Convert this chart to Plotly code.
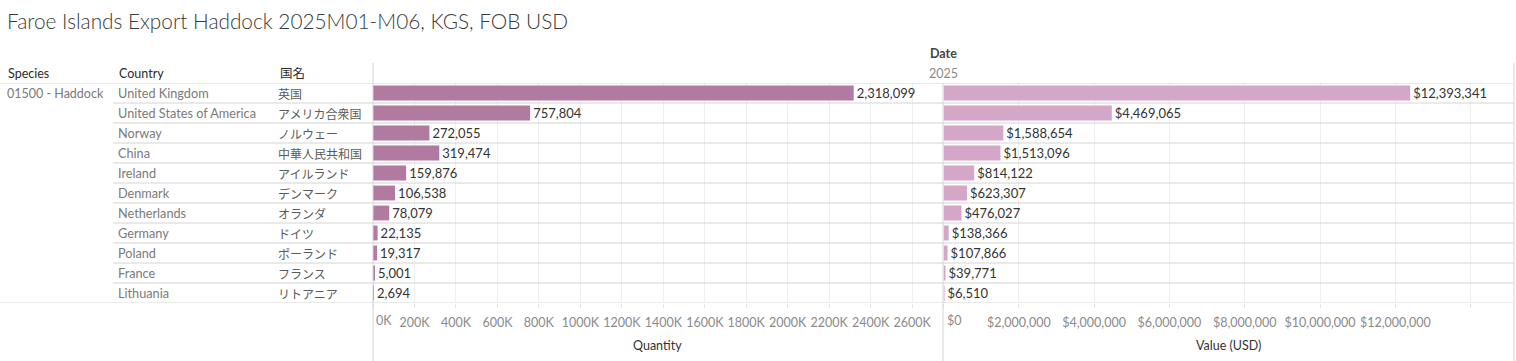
import plotly.graph_objects as go

# ---------------- data ----------------
species = "01500 - Haddock"
countries = ["United Kingdom", "United States of America", "Norway", "China", "Ireland",
             "Denmark", "Netherlands", "Germany", "Poland", "France", "Lithuania"]
countries_jp = ["英国", "アメリカ合衆国", "ノルウェー", "中華人民共和国", "アイルランド",
                "デンマーク", "オランダ", "ドイツ", "ポーランド", "フランス", "リトアニア"]
quantity = [2318099, 757804, 272055, 319474, 159876, 106538, 78079, 22135, 19317, 5001, 2694]
value_usd = [12393341, 4469065, 1588654, 1513096, 814122, 623307, 476027, 138366, 107866, 39771, 6510]

qty_ticks = list(range(0, 2600001, 200000))
val_ticks = list(range(0, 14000001, 2000000))
qty_ticktext = ["" if v == 0 else f"{v // 1000}K" for v in qty_ticks]
val_ticktext = ["" if (v == 0 or v == 14000000) else f"${v:,}" for v in val_ticks]

title = "Faroe Islands Export Haddock 2025M01-M06, KGS, FOB USD"

# ---------------- layout constants ----------------
W, H = 1516, 361
def px(x):
    return x / W
def py(y):
    return 1 - y / H

FONT = "Lato, 'Noto Sans CJK JP', sans-serif"
QTY_COLOR = "#b07aa1"
VAL_COLOR = "#d4a6c8"
LINE = "#d4d4d4"
GRID = "#efefef"
TICK_FONT = dict(family=FONT, size=12.5, color="#8a8a8a")

n = len(countries)
ypos = list(range(n))

fig = go.Figure()
fig.add_trace(go.Bar(
    orientation="h", x=quantity, y=ypos, xaxis="x", yaxis="y",
    marker=dict(color=QTY_COLOR, line=dict(width=0)), width=0.74,
    text=[f"{v:,}" for v in quantity], textposition="outside",
    textfont=dict(family=FONT, size=13, color="#333333"),
    constraintext="none", cliponaxis=False, hoverinfo="skip",
))
fig.add_trace(go.Bar(
    orientation="h", x=value_usd, y=ypos, xaxis="x2", yaxis="y",
    marker=dict(color=VAL_COLOR, line=dict(width=0)), width=0.74,
    text=[f"${v:,}" for v in value_usd], textposition="outside",
    textfont=dict(family=FONT, size=13, color="#333333"),
    constraintext="none", cliponaxis=False, hoverinfo="skip",
))

axis_common = dict(
    showgrid=True, gridcolor=GRID, gridwidth=1, zeroline=False, showline=False,
    ticks="outside", ticklen=4, tickcolor="#e4e4e4",
    tickfont=TICK_FONT,
    tickmode="array", ticklabelstandoff=4, fixedrange=True,
)

fig.update_layout(
    width=W, height=H, margin=dict(l=0, r=0, t=0, b=0),
    paper_bgcolor="white", plot_bgcolor="rgba(0,0,0,0)",
    showlegend=False, barmode="overlay",
    font=dict(family=FONT, color="#333333"),
    xaxis=dict(domain=[px(373), px(942)], range=[0, 2744000], anchor="y",
               tickvals=qty_ticks, ticktext=qty_ticktext, **axis_common),
    xaxis2=dict(domain=[px(943.5), px(1514)], range=[0, 15150000], anchor="y",
                tickvals=val_ticks, ticktext=val_ticktext, **axis_common),
    yaxis=dict(domain=[py(303), py(83)], range=[n - 0.5, -0.5], showgrid=False,
               zeroline=False, showticklabels=False, showline=False, fixedrange=True),
)

shapes = []
# row separators
for k in range(n + 1):
    x0 = 0 if k in (0, n) else px(113)
    shapes.append(dict(type="line", xref="paper", yref="y", x0=x0, x1=px(1514),
                       y0=k - 0.5, y1=k - 0.5, line=dict(color=LINE, width=1)))
# panel borders
shapes.append(dict(type="line", xref="paper", yref="paper", x0=px(373), x1=px(373),
                   y0=py(63), y1=0, line=dict(color=LINE, width=1)))
shapes.append(dict(type="line", xref="paper", yref="paper", x0=px(943), x1=px(943),
                   y0=py(83), y1=0, line=dict(color=LINE, width=1)))
shapes.append(dict(type="line", xref="paper", yref="paper", x0=px(1514), x1=px(1514),
                   y0=py(63), y1=0, line=dict(color=LINE, width=1)))
fig.update_layout(shapes=shapes)

ann = []
ann.append(dict(text=title, xref="paper", yref="paper", x=px(5), y=py(20), xanchor="left",
                yanchor="middle", showarrow=False,
                font=dict(family="'Lato Light', Lato, sans-serif", size=20.8, color="#3a3a3a")))
ann.append(dict(text="Date", xref="paper", yref="paper", x=px(943), y=py(53), xanchor="center",
                yanchor="middle", showarrow=False,
                font=dict(family=FONT, size=12.5, color="#444444", weight="bold")))
ann.append(dict(text="2025", xref="paper", yref="paper", x=px(943), y=py(73), xanchor="center",
                yanchor="middle", showarrow=False, font=dict(family=FONT, size=12.5, color="#8a8a8a")))
for label, x in (("Species", 6), ("Country", 117), ("国名", 278)):
    ann.append(dict(text=label, xref="paper", yref="paper", x=px(x), y=py(73), xanchor="left",
                    yanchor="middle", showarrow=False,
                    font=dict(family=FONT, size=12.5, color="#2a2a2a")))
ann.append(dict(text=species, xref="paper", yref="y", x=px(5), y=0, xanchor="left",
                yanchor="middle", showarrow=False, font=dict(family=FONT, size=12.5, color="#7a7a7a")))
for i, (c, j) in enumerate(zip(countries, countries_jp)):
    ann.append(dict(text=c, xref="paper", yref="y", x=px(116), y=i, xanchor="left",
                    yanchor="middle", showarrow=False, font=dict(family=FONT, size=12.7, color="#7a7a7a")))
    ann.append(dict(text=j, xref="paper", yref="y", x=px(276), y=i, xanchor="left",
                    yanchor="middle", showarrow=False,
                    font=dict(family="'Noto Sans CJK JP', sans-serif", size=12, color="#5a5a5a")))
# zero tick labels, left-aligned like the original
ann.append(dict(text=f"{qty_ticks[0] // 1000}K", xref="x", yref="paper", x=qty_ticks[0], y=py(320),
                xanchor="left", yanchor="middle", xshift=1, showarrow=False, font=TICK_FONT))
ann.append(dict(text=f"${val_ticks[0]:,}", xref="x2", yref="paper", x=val_ticks[0], y=py(320),
                xanchor="left", yanchor="middle", xshift=1, showarrow=False, font=TICK_FONT))
# axis titles
ann.append(dict(text="Quantity", xref="x domain", yref="paper", x=0.5, y=py(345), xanchor="center",
                yanchor="middle", showarrow=False,
                font=dict(family=FONT, size=12.5, color="#333333")))
ann.append(dict(text="Value (USD)", xref="x2 domain", yref="paper", x=0.5, y=py(345), xanchor="center",
                yanchor="middle", showarrow=False,
                font=dict(family=FONT, size=12.5, color="#333333")))
fig.update_layout(annotations=ann)

fig.write_html("out.html", config={"displayModeBar": False},
               post_script="document.body.style.margin='0';document.body.style.padding='0';")
